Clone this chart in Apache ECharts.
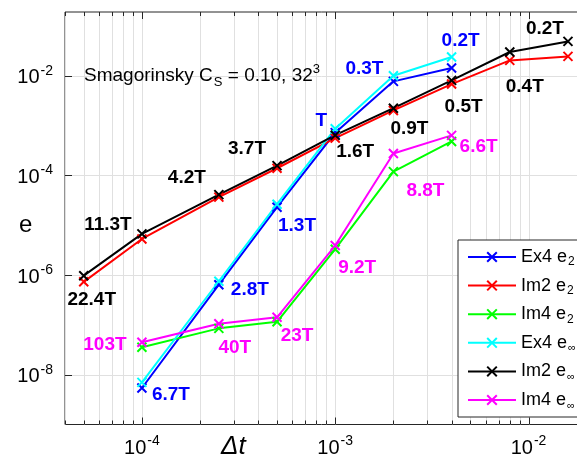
<!DOCTYPE html>
<html>
<head>
<meta charset="utf-8">
<script src="https://cdn.jsdelivr.net/npm/echarts@6/dist/echarts.min.js"></script>
<style>
  html, body { margin: 0; padding: 0; background: #fff; }
  #chart { width: 577px; height: 462px; }
</style>
</head>
<body>
<div id="chart"></div>
<script>
// Time steps (Δt) used by each scheme
const dtIm2 = [5e-5, 1e-4, 2.5e-4, 5e-4, 1e-3, 2e-3, 4e-3, 8e-3, 1.6e-2];
const dtEx4 = [1e-4, 2.5e-4, 5e-4, 1e-3, 2e-3, 4e-3];
const dtIm4 = [1e-4, 2.5e-4, 5e-4, 1e-3, 2e-3, 4e-3];

// Errors e
const ex4E2   = [5.4e-9, 6.4e-7, 2.3e-5, 7.2e-4, 7.7e-3, 1.43e-2];
const im2E2   = [7.3e-7, 5.3e-6, 3.66e-5, 1.39e-4, 5.6e-4, 2.01e-3, 6.8e-3, 2.03e-2, 2.44e-2];
const im4E2   = [3.55e-8, 8.5e-8, 1.15e-7, 3.3e-6, 1.19e-4, 4.8e-4];
const ex4Einf = [7.0e-9, 7.5e-7, 2.64e-5, 8.65e-4, 1.0e-2, 2.37e-2];
const im2Einf = [9.7e-7, 6.7e-6, 4.1e-5, 1.57e-4, 6.4e-4, 2.23e-3, 8.05e-3, 2.99e-2, 4.88e-2];
const im4Einf = [4.47e-8, 1.05e-7, 1.42e-7, 3.9e-6, 2.75e-4, 6.34e-4];

// Run-time annotations per point
const im2Tags = ['22.4T', '11.3T', '4.2T', '3.7T', '1.6T', '0.9T', '0.5T', '0.4T', '0.2T'];
const ex4Tags = ['6.7T', '2.8T', '1.3T', 'T', '0.3T', '0.2T'];
const im4Tags = ['103T', '40T', '23T', '9.2T', '8.8T', '6.6T'];

// Axis limits and tick values
const xMin = 4e-5, xMax = 2e-2;
const yMin = 1e-9, yMax = 0.19;
const xGridTicks = [4e-5, 5e-5, 6e-5, 7e-5, 8e-5, 9e-5,
  1e-4, 2e-4, 3e-4, 4e-4, 5e-4, 6e-4, 7e-4, 8e-4, 9e-4,
  1e-3, 2e-3, 3e-3, 4e-3, 5e-3, 6e-3, 7e-3, 8e-3, 9e-3,
  1e-2, 2e-2];
const yGridTicks = [1e-8, 1e-6, 1e-4, 1e-2];

// Label placement (pixel offsets from each point)
const im2TagOffsets = [[8, 24], [-34, -9], [-32, -17], [-30, -17], [20, 17], [16, 21], [12, 26], [15, 35], [-23, -13]];
const ex4TagOffsets = [[29, 7], [31, 5], [20, 19], [-14, -12], [-29, -13], [9, -27]];
const im4TagOffsets = [[-37, 2], [16, 24], [20, 19], [22, 22], [32, 37], [27, 11]];

const FONT = '"Liberation Sans", Arial, Helvetica, sans-serif';
const CROSS = 'path://M0,0L10,10M10,0L0,10';

function isPow10(v) {
  const e = Math.log10(v);
  return Math.abs(e - Math.round(e)) < 1e-6;
}
function powLabel(v) {
  if (!isPow10(v)) return '';
  return '{b|10}{s|' + Math.round(Math.log10(v)) + '}';
}

function makeSeries(name, color, xs, ys, tags, offsets, tagColor) {
  return {
    name: name,
    type: 'line',
    data: xs.map((x, i) => {
      const item = { value: [x, ys[i]] };
      if (tags) {
        item.label = {
          show: true,
          formatter: tags[i],
          offset: offsets[i]
        };
      }
      return item;
    }),
    symbol: CROSS,
    symbolSize: 9,
    showSymbol: true,
    lineStyle: { color: color, width: 2 },
    itemStyle: { color: color, borderColor: color, borderWidth: 2 },
    label: {
      show: false,
      position: 'inside',
      align: 'center',
      verticalAlign: 'middle',
      color: tagColor,
      fontFamily: FONT,
      fontWeight: 'bold',
      fontSize: 19
    },
    emphasis: { disabled: true },
    z: 3
  };
}

const legendLabels = {
  'Ex4 e2': 'Ex4 e{sub|2}',
  'Im2 e2': 'Im2 e{sub|2}',
  'Im4 e2': 'Im4 e{sub|2}',
  'Ex4 einf': 'Ex4 e{inf|∞}',
  'Im2 einf': 'Im2 e{inf|∞}',
  'Im4 einf': 'Im4 e{inf|∞}'
};

const chart = echarts.init(document.getElementById('chart'), null, { renderer: 'canvas' });

const axisRich = {
  b: { fontSize: 20, fontFamily: FONT, color: '#000', lineHeight: 24, verticalAlign: 'bottom' },
  s: { fontSize: 14, fontFamily: FONT, color: '#000', lineHeight: 24, verticalAlign: 'top', padding: [0, 0, 0, 1] }
};

chart.setOption({
  animation: false,
  backgroundColor: '#fff',
  grid: {
    left: 65, top: 12, width: 521.7, height: 412.5,
    outerBoundsMode: 'none',
    containLabel: false,
    show: true, borderColor: '#262626', borderWidth: 1, backgroundColor: 'transparent'
  },
  xAxis: {
    type: 'log',
    min: xMin, max: xMax,
    axisLine: { show: false },
    axisTick: { show: false },
    splitLine: { show: false },
    minorTick: { show: false },
    axisLabel: {
      margin: 10,
      formatter: powLabel,
      rich: axisRich,
      showMinLabel: false,
      showMaxLabel: false
    }
  },
  yAxis: {
    type: 'log',
    min: yMin, max: yMax,
    axisLine: { show: false },
    axisTick: { show: false },
    splitLine: { show: false },
    axisLabel: {
      margin: 12,
      formatter: v => {
        const e = Math.round(Math.log10(v));
        if (!isPow10(v) || e % 2 !== 0) return '';
        return powLabel(v);
      },
      rich: axisRich,
      showMinLabel: false,
      showMaxLabel: false
    }
  },
  legend: {
    orient: 'vertical',
    left: 458, top: 240,
    padding: [6, 40, 6, 9],
    itemWidth: 48,
    itemHeight: 12,
    itemGap: 6.6,
    backgroundColor: '#fff',
    borderColor: '#262626',
    borderWidth: 1,
    borderRadius: 0,
    selectedMode: false,
    data: ['Ex4 e2', 'Im2 e2', 'Im4 e2', 'Ex4 einf', 'Im2 einf', 'Im4 einf'],
    formatter: name => legendLabels[name],
    textStyle: {
      fontFamily: FONT,
      fontSize: 18,
      color: '#000',
      lineHeight: 22,
      rich: {
        sub: { fontSize: 12, fontFamily: FONT, color: '#000', lineHeight: 22, verticalAlign: 'bottom', padding: [6, 0, 0, 1] },
        inf: { fontSize: 11, fontFamily: FONT, color: '#000', lineHeight: 22, verticalAlign: 'bottom', padding: [8, 0, 0, 1] }
      }
    }
  },
  graphic: [
    {
      type: 'text', left: 84, top: 63, z: 10,
      style: {
        text: '{t|Smagorinsky C}{sub|S}{t| = 0.10, 32}{sup|3}',
        rich: {
          t: { fontSize: 19, fontFamily: FONT, color: '#000', lineHeight: 26, verticalAlign: 'middle' },
          sub: { fontSize: 13, fontFamily: FONT, color: '#000', lineHeight: 26, verticalAlign: 'bottom', padding: [0, 0, 0, 1] },
          sup: { fontSize: 13, fontFamily: FONT, color: '#000', lineHeight: 26, verticalAlign: 'top' }
        }
      }
    },
    {
      type: 'text', left: 19, top: 213, z: 10,
      style: { text: 'e', fontSize: 24, fontFamily: FONT, fill: '#000' }
    },
    {
      type: 'text', left: 221, top: 434, z: 10,
      style: { text: 'Δt', fontSize: 26, fontStyle: 'italic', fontFamily: FONT, fill: '#000' }
    }
  ],
  series: [
    {
      type: 'custom',
      coordinateSystem: 'cartesian2d',
      silent: true,
      z: 0,
      data: xGridTicks.map(v => [v, yMin]),
      renderItem: (params, api) => {
        const v = api.value(0);
        const cs = params.coordSys;
        const x = Math.round(api.coord([v, yMin])[0]) + 0.5;
        const tl = isPow10(v) ? 7 : 4;
        const top = cs.y, bot = cs.y + cs.height;
        return {
          type: 'group',
          children: [
            { type: 'line', shape: { x1: x, y1: top, x2: x, y2: bot }, style: { stroke: '#e0e0e0', lineWidth: 1 } },
            { type: 'line', shape: { x1: x, y1: bot, x2: x, y2: bot - tl }, style: { stroke: '#262626', lineWidth: 1 } },
            { type: 'line', shape: { x1: x, y1: top, x2: x, y2: top + tl }, style: { stroke: '#262626', lineWidth: 1 } }
          ]
        };
      }
    },
    {
      type: 'custom',
      coordinateSystem: 'cartesian2d',
      silent: true,
      z: 0,
      data: yGridTicks.map(v => [xMin, v]),
      renderItem: (params, api) => {
        const v = api.value(1);
        const cs = params.coordSys;
        const y = Math.round(api.coord([xMin, v])[1]) + 0.5;
        const l = cs.x, r = cs.x + cs.width;
        return {
          type: 'group',
          children: [
            { type: 'line', shape: { x1: l, y1: y, x2: r, y2: y }, style: { stroke: '#e0e0e0', lineWidth: 1 } },
            { type: 'line', shape: { x1: l, y1: y, x2: l + 7, y2: y }, style: { stroke: '#262626', lineWidth: 1 } }
          ]
        };
      }
    },
    makeSeries('Ex4 e2', '#0000ff', dtEx4, ex4E2, ex4Tags, ex4TagOffsets, '#0000ff'),
    makeSeries('Im2 e2', '#ff0000', dtIm2, im2E2, null, null, '#000'),
    makeSeries('Im4 e2', '#00ff00', dtIm4, im4E2, null, null, '#000'),
    makeSeries('Ex4 einf', '#00ffff', dtEx4, ex4Einf, null, null, '#000'),
    makeSeries('Im2 einf', '#000000', dtIm2, im2Einf, im2Tags, im2TagOffsets, '#000000'),
    makeSeries('Im4 einf', '#ff00ff', dtIm4, im4Einf, im4Tags, im4TagOffsets, '#ff00ff')
  ]
});
</script>
</body>
</html>
